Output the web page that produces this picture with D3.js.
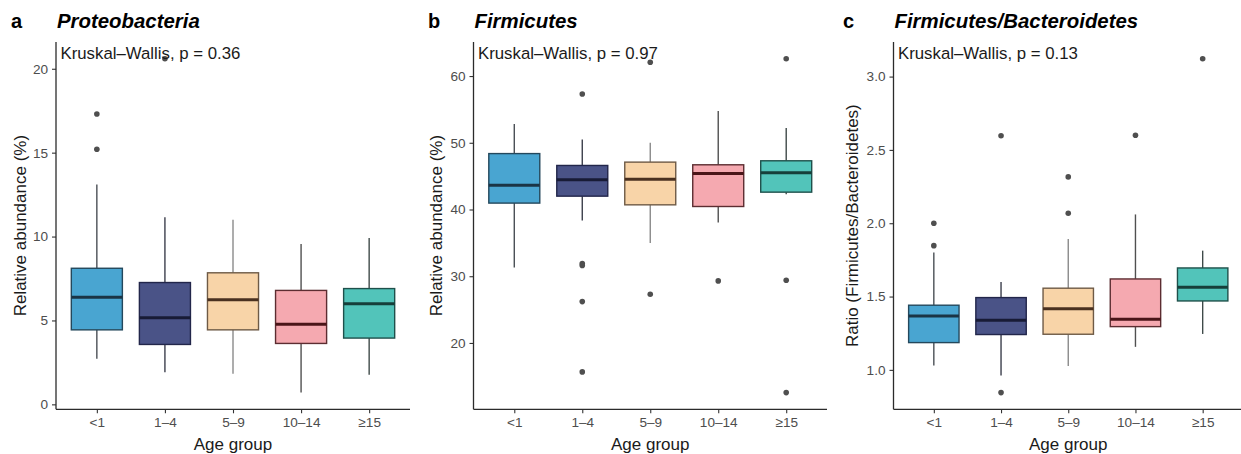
<!DOCTYPE html>
<html>
<head>
<meta charset="utf-8">
<script src="https://cdn.jsdelivr.net/npm/d3@7"></script>
<style>
  html, body { margin: 0; padding: 0; background: #fff; }
  svg { display: block; font-family: "Liberation Sans", Arial, Helvetica, sans-serif; }
</style>
</head>
<body>
<svg id="chart" width="1241" height="454"></svg>
<script>
// ---------- data ----------
const categories = ["<1", "1–4", "5–9", "10–14", "≥15"];

// Panel a: Proteobacteria (relative abundance, %)
const proteoLow  = [2.72, 1.92, 1.82, 0.70, 1.77];
const proteoQ1   = [4.44, 3.57, 4.44, 3.63, 3.95];
const proteoMed  = [6.39, 5.16, 6.23, 4.78, 6.00];
const proteoQ3   = [8.11, 7.26, 7.84, 6.79, 6.90];
const proteoHigh = [13.1, 11.15, 11.0, 9.56, 9.92];
const proteoOut  = [[17.3, 15.2], [20.6], [], [], []];
const proteoTicks = [0, 5, 10, 15, 20];

// Panel b: Firmicutes (relative abundance, %)
const firmLow  = [31.3, 38.35, 34.97, 38.05, 42.3];
const firmQ1   = [40.96, 42.0, 40.7, 40.45, 42.6];
const firmMed  = [43.65, 44.45, 44.55, 45.4, 45.5];
const firmQ3   = [48.38, 46.6, 47.1, 46.7, 47.3];
const firmHigh = [52.8, 50.5, 50.0, 54.78, 52.2];
const firmOut  = [[], [57.3, 31.9, 31.6, 26.2, 15.66], [62.07, 27.3], [29.3], [62.6, 29.4, 12.56]];
const firmTicks = [20, 30, 40, 50, 60];

// Panel c: Firmicutes/Bacteroidetes ratio
const ratioLow  = [1.03, 0.961, 1.027, 1.157, 1.245];
const ratioQ1   = [1.186, 1.241, 1.243, 1.295, 1.47];
const ratioMed  = [1.368, 1.339, 1.416, 1.346, 1.564];
const ratioQ3   = [1.441, 1.493, 1.557, 1.62, 1.695];
const ratioHigh = [1.80, 1.60, 1.893, 2.06, 1.813];
const ratioOut  = [[2.0, 1.847], [2.597, 0.845], [2.316, 2.068], [2.60], [3.122]];
const ratioTicks = [1.0, 1.5, 2.0, 2.5, 3.0];

const pValues = ["0.36", "0.97", "0.13"];

// ---------- style ----------
const fills    = ["#49a5d1", "#4a5387", "#f8d4a8", "#f5a9b0", "#52c4ba"];
const outlines = ["#24485c", "#22264a", "#6e5a46", "#5c2d31", "#1f504b"];
const medians  = ["#1a3445", "#181b36", "#4a3120", "#4a1518", "#163f3a"];
const whiskers = ["#4a4f55", "#3c3f4c", "#8a8a8a", "#505050", "#3f4a49"];

const panels = [
  { letter: "a", title: "Proteobacteria", yTitle: "Relative abundance (%)",
    low: proteoLow, q1: proteoQ1, med: proteoMed, q3: proteoQ3, high: proteoHigh, out: proteoOut,
    ticks: proteoTicks, fmt: d3.format("d"), p: pValues[0],
    left: 0, axisX: 56, right: 410, yTitleX: 26 },
  { letter: "b", title: "Firmicutes", yTitle: "Relative abundance (%)",
    low: firmLow, q1: firmQ1, med: firmMed, q3: firmQ3, high: firmHigh, out: firmOut,
    ticks: firmTicks, fmt: d3.format("d"), p: pValues[1],
    left: 417, axisX: 473.5, right: 827, yTitleX: 441.5 },
  { letter: "c", title: "Firmicutes/Bacteroidetes", yTitle: "Ratio (Firmicutes/Bacteroidetes)",
    low: ratioLow, q1: ratioQ1, med: ratioMed, q3: ratioQ3, high: ratioHigh, out: ratioOut,
    ticks: ratioTicks, fmt: d3.format(".1f"), p: pValues[2],
    left: 832, axisX: 893.5, right: 1243, yTitleX: 857.5 }
];

const plotTop = 42, plotBottom = 409.3;
const svg = d3.select("#chart");

panels.forEach(P => {
  const g = svg.append("g");
  const x = d3.scalePoint().domain(categories).range([P.axisX, P.right]).padding(0.6);
  const allVals = P.low.concat(P.high, P.out.flat());
  const lo = d3.min(allVals), hi = d3.max(allVals);
  const pad = (hi - lo) * 0.05;
  const y = d3.scaleLinear().domain([lo - pad, hi + pad]).range([plotBottom, plotTop]);
  const bw = x.step() * 0.75;

  // boxes
  categories.forEach((c, i) => {
    const cx = x(c);
    const wc = whiskers[i];
    g.append("line").attr("x1", cx).attr("x2", cx).attr("y1", y(P.q3[i])).attr("y2", y(P.high[i]))
      .attr("stroke", wc).attr("stroke-width", 1.4);
    g.append("line").attr("x1", cx).attr("x2", cx).attr("y1", y(P.q1[i])).attr("y2", y(P.low[i]))
      .attr("stroke", wc).attr("stroke-width", 1.4);
    g.append("rect").attr("x", cx - bw / 2).attr("width", bw)
      .attr("y", y(P.q3[i])).attr("height", y(P.q1[i]) - y(P.q3[i]))
      .attr("fill", fills[i]).attr("stroke", outlines[i]).attr("stroke-width", 1.4);
    g.append("line").attr("x1", cx - bw / 2).attr("x2", cx + bw / 2)
      .attr("y1", y(P.med[i])).attr("y2", y(P.med[i]))
      .attr("stroke", medians[i]).attr("stroke-width", 3);
    P.out[i].forEach(v => {
      g.append("circle").attr("cx", cx).attr("cy", y(v)).attr("r", 2.8).attr("fill", "#4f4f4f");
    });
  });

  // axes
  const yAxis = d3.axisLeft(y).tickValues(P.ticks).tickFormat(P.fmt).tickSize(4).tickPadding(4);
  const ya = g.append("g").attr("transform", `translate(${P.axisX},0)`).call(yAxis);
  ya.select(".domain").remove();
  ya.selectAll(".tick line").attr("stroke", "#333").attr("stroke-width", 1.1);
  ya.selectAll(".tick text").attr("fill", "#4d4d4d").style("font-size", "13.6px")
    .style("font-family", "Liberation Sans, Arial, sans-serif");
  const xAxis = d3.axisBottom(x).tickSize(4).tickPadding(4);
  const xa = g.append("g").attr("transform", `translate(0,${plotBottom})`).call(xAxis);
  xa.select(".domain").remove();
  xa.selectAll(".tick line").attr("stroke", "#333").attr("stroke-width", 1.1);
  xa.selectAll(".tick text").attr("fill", "#4d4d4d").style("font-size", "13.6px")
    .style("font-family", "Liberation Sans, Arial, sans-serif");

  g.append("line").attr("x1", P.axisX).attr("x2", P.axisX).attr("y1", plotTop).attr("y2", plotBottom)
    .attr("stroke", "#2b2b2b").attr("stroke-width", 1.3);
  g.append("line").attr("x1", P.axisX).attr("x2", P.right).attr("y1", plotBottom).attr("y2", plotBottom)
    .attr("stroke", "#2b2b2b").attr("stroke-width", 1.3);

  // titles
  g.append("text").attr("x", P.left + 11).attr("y", 28).text(P.letter)
    .style("font-size", "20px").style("font-weight", "bold").attr("fill", "#000");
  g.append("text").attr("x", P.axisX + 1).attr("y", 28).text(P.title)
    .style("font-size", "20.4px").style("font-weight", "bold").style("font-style", "italic").attr("fill", "#000");
  g.append("text").attr("x", P.axisX + 4.5).attr("y", 59).text("Kruskal–Wallis, p = " + P.p)
    .style("font-size", "16.8px").attr("fill", "#1a1a1a");
  g.append("text").attr("x", (P.axisX + P.right) / 2).attr("y", 449.5).attr("text-anchor", "middle")
    .text("Age group").style("font-size", "17px").attr("fill", "#1a1a1a");
  g.append("text").attr("transform", `translate(${P.yTitleX},${(plotTop + plotBottom) / 2}) rotate(-90)`)
    .attr("text-anchor", "middle").text(P.yTitle).style("font-size", "17px").attr("fill", "#1a1a1a");
});
</script>
</body>
</html>
